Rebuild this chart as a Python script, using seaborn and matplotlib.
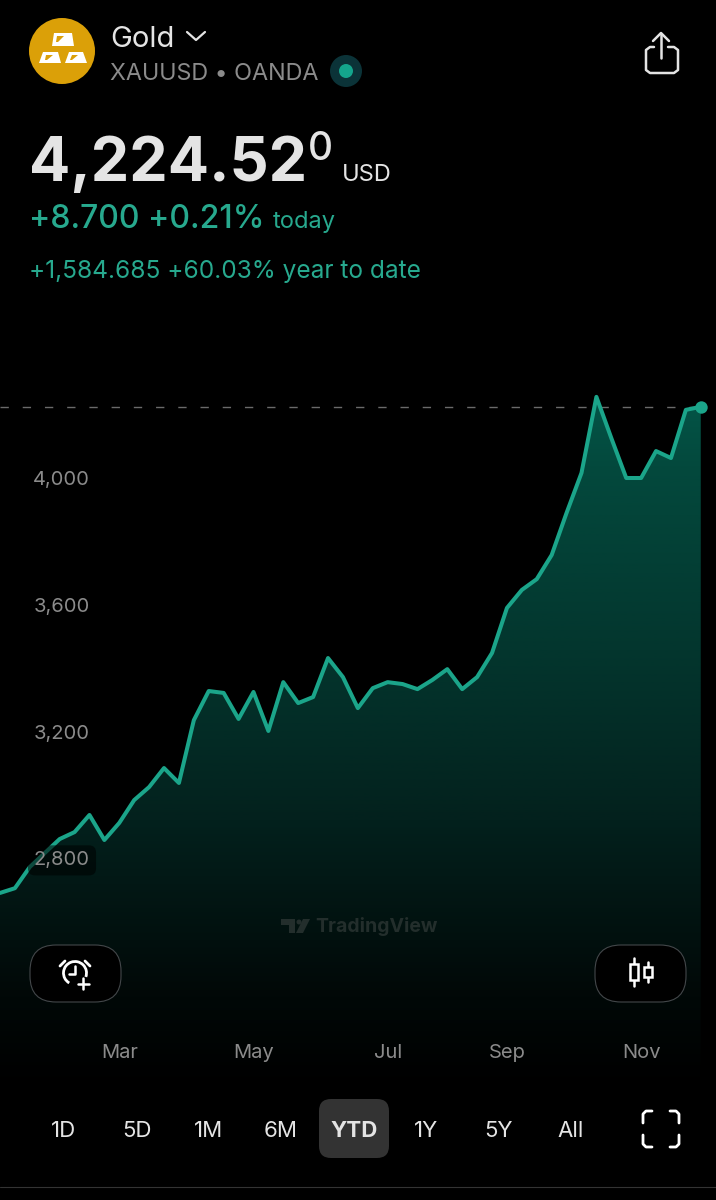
import numpy as np
import pandas as pd
import matplotlib.pyplot as plt
import seaborn as sns
from matplotlib.colors import LinearSegmentedColormap
from matplotlib.patches import Arc, Circle, FancyBboxPatch, Polygon, Rectangle

# weekly closes, gold YTD
prices = [2691, 2706, 2773, 2817, 2861, 2883, 2937, 2858, 2912, 2984, 3025, 3085,
          3038, 3236, 3328, 3322, 3240, 3325, 3202, 3356, 3290, 3309, 3432, 3372,
          3274, 3337, 3356, 3350, 3334, 3363, 3397, 3334, 3372, 3448, 3590, 3647,
          3681, 3757, 3890, 4016, 4256, 4126, 4000, 4000, 4085, 4063, 4215, 4224.52]
month_weeks = [8, 17, 26, 34, 43]
month_labels = ["Mar", "May", "Jul", "Sep", "Nov"]
price_ticks = [2800, 3200, 3600, 4000]
price_tick_labels = ["2,800", "3,200", "3,600", "4,000"]
ranges = ["1D", "5D", "1M", "6M", "YTD", "1Y", "5Y", "All"]

BG = "#000000"
GREEN = "#1ba58a"
TEXT_GREEN = "#27a98e"
GREY = "#8b8b8b"
WHITE = "#e4e4e4"

sns.set_theme(style="dark", rc={"figure.facecolor": BG, "axes.facecolor": BG,
                                "savefig.facecolor": BG})
plt.rcParams["font.family"] = ["Inter", "DejaVu Sans"]

W, H = 716, 1200
fig = plt.figure(figsize=(W / 100, H / 100), dpi=100)

# chart axes, bottom edge is where the area fades out
TOP_PX, BOTTOM_PX = 380, 1090
ax = fig.add_axes([0, 1 - BOTTOM_PX / H, 1, (BOTTOM_PX - TOP_PX) / H])
px_per_week = 14.91
px_per_usd = 126.8 / 400
ax.set_xlim(0, W / px_per_week)
ax.set_ylim(4000 - (BOTTOM_PX - 478) / px_per_usd, 4000 + (478 - TOP_PX) / px_per_usd)

df = pd.DataFrame({"week": np.arange(len(prices)), "price": prices})

# area gradient clipped to the price polygon
area = ax.fill_between(df["week"], df["price"], ax.get_ylim()[0], color="none")
cmap = LinearSegmentedColormap.from_list(
    "area", [(0, "#000000"), (0.13, "#010807"), (0.38, "#03211d"),
             (0.62, "#03362e"), (0.88, "#03493d"), (1, "#04584a")])
grad = ax.imshow(np.linspace(1, 0, 256).reshape(-1, 1), cmap=cmap, aspect="auto",
                 extent=[0, df["week"].max(), ax.get_ylim()[0], ax.get_ylim()[1]],
                 zorder=1)
grad.set_clip_path(area.get_paths()[0], transform=ax.transData)
ax.set_xlim(0, W / px_per_week)

sns.lineplot(data=df, x="week", y="price", color=GREEN, linewidth=2.9, ax=ax, zorder=2)
ax.axhline(prices[-1], xmax=695 / W, color="#6a6a6a", linewidth=1, dashes=(6, 10), zorder=1.5)
sns.scatterplot(x=df["week"].iloc[[-1]], y=df["price"].iloc[[-1]], color=GREEN, s=80,
                linewidth=0, ax=ax, zorder=3)

ax.set_xlabel("")
ax.set_ylabel("")
ax.set_xticks(month_weeks, month_labels)
ax.set_yticks(price_ticks, price_tick_labels)
ax.set_axisbelow(False)
ax.tick_params(axis="x", length=0, labelsize=14.5, labelcolor=GREY, pad=-46 * 0.72)
ax.tick_params(axis="y", length=0, labelsize=14.5, labelcolor=GREY, pad=-90 * 0.72)
ax.grid(False)
for s in ax.spines.values():
    s.set_visible(False)
ax.get_yticklabels()[0].set_bbox(dict(boxstyle="round,pad=0.3,rounding_size=0.35",
                                      facecolor="#000000", alpha=0.55, edgecolor="none"))

# everything else is app chrome, drawn in pixel coordinates
ui = fig.add_axes([0, 0, 1, 1])
ui.set_xlim(0, W)
ui.set_ylim(H, 0)
ui.axis("off")
ui.patch.set_alpha(0)

# logo
ui.add_patch(Circle((62, 51), 33, color="#dba008", lw=0))
for pts in ([(54, 33), (72, 33), (74, 46), (52, 46)],
            [(43, 52), (58, 52), (61, 63), (39, 63)],
            [(69, 52), (83, 52), (87, 63), (65, 63)]):
    ui.add_patch(Polygon(pts, closed=True, color="white", lw=0))
for pts in ([(57, 36), (64, 36), (58, 42), (56, 42)],
            [(46, 55), (53, 55), (47, 60), (45, 60)],
            [(72, 55), (78, 55), (72, 60), (70, 60)]):
    ui.add_patch(Polygon(pts, closed=True, color="#dba008", lw=0))

# header
ui.text(110, 47, "Gold", color=WHITE, fontsize=21, va="baseline")
ui.plot([187, 196, 205], [32, 40, 32], color=WHITE, lw=1.6)
ui.text(110, 80, "XAUUSD • OANDA", color=GREY, fontsize=16.8, va="baseline")
ui.add_patch(Circle((346, 71), 16, color="#0b3338", lw=0))
ui.add_patch(Circle((346, 71), 7, color="#14a58c", lw=0))

# share icon
ui.plot([654, 650, 646, 646, 650, 674, 678, 678, 674, 668],
        [47, 47, 50, 70, 73, 73, 70, 50, 47, 47], color=WHITE, lw=1.8)
ui.plot([661, 661], [34, 58], color=WHITE, lw=1.8)
ui.plot([653, 661, 669], [41, 33, 41], color=WHITE, lw=1.8)

# price block
ui.text(29, 181, "4,224.52", color=WHITE, fontsize=44, fontweight="bold", va="baseline")
ui.text(308, 160, "0", color=WHITE, fontsize=28, fontweight="medium", va="baseline")
ui.text(342, 181, "USD", color=WHITE, fontsize=17, va="baseline")
ui.text(29, 228, "+8.700 +0.21%", color=TEXT_GREEN, fontsize=23, fontweight="medium", va="baseline")
ui.text(273, 228, "today", color=TEXT_GREEN, fontsize=17, va="baseline")
ui.text(29, 278, "+1,584.685 +60.03% year to date", color=TEXT_GREEN, fontsize=17.6, va="baseline")

# watermark
ui.text(315, 926, "TradingView", color="#232e2c", fontsize=14, fontweight="bold", va="center")
ui.add_patch(Polygon([(281, 919), (295, 919), (295, 933), (289, 933), (289, 925), (281, 925)],
                     closed=True, color="#232e2c", lw=0))
ui.add_patch(Circle((299, 922), 2.5, color="#232e2c", lw=0))
ui.add_patch(Polygon([(303, 919), (310, 919), (303, 933), (296, 933)], closed=True,
                     color="#232e2c", lw=0))

# floating buttons
for x0 in (30, 595):
    ui.add_patch(FancyBboxPatch((x0 + 26, 945 + 26), 91 - 52, 57 - 52,
                                boxstyle="round,pad=26,rounding_size=26",
                                facecolor=BG, edgecolor="#43474a", lw=0.8))

# alarm icon
ui.add_patch(Arc((75, 973), 23, 23, theta1=-60, theta2=200, angle=180, color="white", lw=2))
ui.plot([75, 75, 69], [966, 974, 974], color="white", lw=1.8)
ui.plot([60, 65], [966, 961], color="white", lw=2)
ui.plot([85, 90], [961, 966], color="white", lw=2)
ui.plot([83, 83], [978, 989], color="white", lw=1.8)
ui.plot([78, 89], [984, 984], color="white", lw=1.8)

# candle icon
ui.plot([634, 634], [958, 986], color="white", lw=1.8)
ui.add_patch(Rectangle((630, 964), 8, 16, facecolor=BG, edgecolor="white", lw=1.8, zorder=3))
ui.plot([648, 648], [962, 982], color="white", lw=1.8)
ui.add_patch(Rectangle((644, 967), 8, 10, facecolor=BG, edgecolor="white", lw=1.8, zorder=3))

# range selector
ui.add_patch(FancyBboxPatch((329, 1109), 50, 39, boxstyle="round,pad=10,rounding_size=12",
                            facecolor="#333333", edgecolor="none"))
range_x = [64, 137, 209, 281, 354, 426, 498, 571]
for r, x in zip(ranges, range_x):
    ui.text(x, 1129, r, color=WHITE, fontsize=16, ha="center", va="center_baseline",
            fontweight="bold" if r == "YTD" else "normal")

# expand icon
for sx, sy in ((-1, -1), (1, -1), (-1, 1), (1, 1)):
    ui.plot([661 + sx * 9, 661 + sx * 15, 661 + sx * 18, 661 + sx * 18],
            [1129 + sy * 18, 1129 + sy * 18, 1129 + sy * 15, 1129 + sy * 6],
            color="white", lw=2)

ui.plot([0, W], [1187, 1187], color="#333333", lw=0.8)

fig.savefig("out.png", dpi=100)
